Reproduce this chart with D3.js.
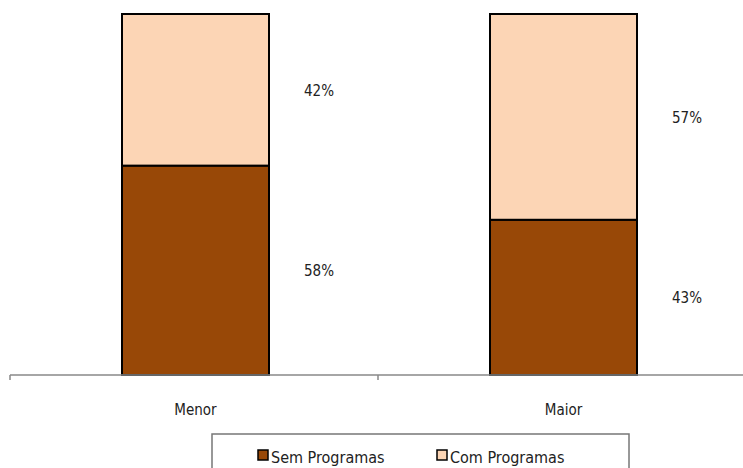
<!DOCTYPE html>
<html><head><meta charset="utf-8">
<script src="https://cdn.jsdelivr.net/npm/d3@7"></script>
<style>body{margin:0;background:#fff}svg{display:block}</style>
</head><body>
<script>
const categories = ["Menor", "Maior"];
const seriesNames = ["Sem Programas", "Com Programas"];
const semProgramas = [58, 43];
const comProgramas = [42, 57];
const colors = ["#984807", "#FCD5B5"];

const W = 743, H = 468;
const svg = d3.select("body").append("svg").attr("width", W).attr("height", H);
const font = "'DejaVu Sans Condensed', 'DejaVu Sans', sans-serif";

const x = d3.scaleBand().domain(categories).range([10, 746]).paddingInner(0).paddingOuter(0);
const y = d3.scaleLinear().domain([0, 100]).range([375, 14]);
const barW = 147;
const cx = d => x(d) + x.bandwidth() / 2 + 1.5;

const rows = categories.map((c, i) => ({cat: c, vals: [semProgramas[i], comProgramas[i]]}));
const stack = d3.stack().keys([0, 1]).value((d, k) => d.vals[k]);
const layers = stack(rows);

layers.forEach((layer, k) => {
  svg.append("g").selectAll("rect").data(layer).join("rect")
    .attr("x", d => cx(d.data.cat) - barW / 2)
    .attr("y", d => y(d[1]))
    .attr("width", barW)
    .attr("height", d => y(d[0]) - y(d[1]))
    .attr("fill", colors[k])
    .attr("stroke", "#000").attr("stroke-width", 2);
});
layers.forEach((layer, k) => {
  svg.append("g").selectAll("text").data(layer).join("text")
    .attr("x", d => cx(d.data.cat) + barW / 2 + 50)
    .attr("y", d => (y(d[0]) + y(d[1])) / 2 + 6)
    .attr("text-anchor", "middle")
    .attr("font-family", font).attr("font-size", 15).attr("fill", "#222")
    .text(d => (d[1] - d[0]) + "%");
});

// axis
const axis = svg.append("g").attr("transform", "translate(0,375)")
  .call(d3.axisBottom(x).tickSize(0).tickFormat(""));
axis.select(".domain").attr("stroke", "#888").attr("stroke-width", 1.5).attr("d", "M10,0H746");
const bounds = [10, 378, 746];
svg.append("g").selectAll("line").data(bounds).join("line")
  .attr("x1", d => d).attr("x2", d => d).attr("y1", 375).attr("y2", 380)
  .attr("stroke", "#888").attr("stroke-width", 1.5);

svg.append("g").selectAll("text").data(categories).join("text")
  .attr("x", d => cx(d))
  .attr("y", 415)
  .attr("text-anchor", "middle")
  .attr("font-family", font).attr("font-size", 15).attr("fill", "#222")
  .text(d => d);

// legend
const lg = svg.append("g");
lg.append("rect").attr("x", 212).attr("y", 434).attr("width", 417).attr("height", 40)
  .attr("fill", "#fff").attr("stroke", "#777").attr("stroke-width", 1.5);
const legX = [258, 437];
seriesNames.forEach((n, i) => {
  lg.append("rect").attr("x", legX[i]).attr("y", 450).attr("width", 10).attr("height", 10)
    .attr("fill", colors[i]).attr("stroke", "#000").attr("stroke-width", 1.5);
  lg.append("text").attr("x", legX[i] + 13).attr("y", 463)
    .attr("font-family", font).attr("font-size", 16).attr("fill", "#222").text(n);
});
</script>
</body></html>
